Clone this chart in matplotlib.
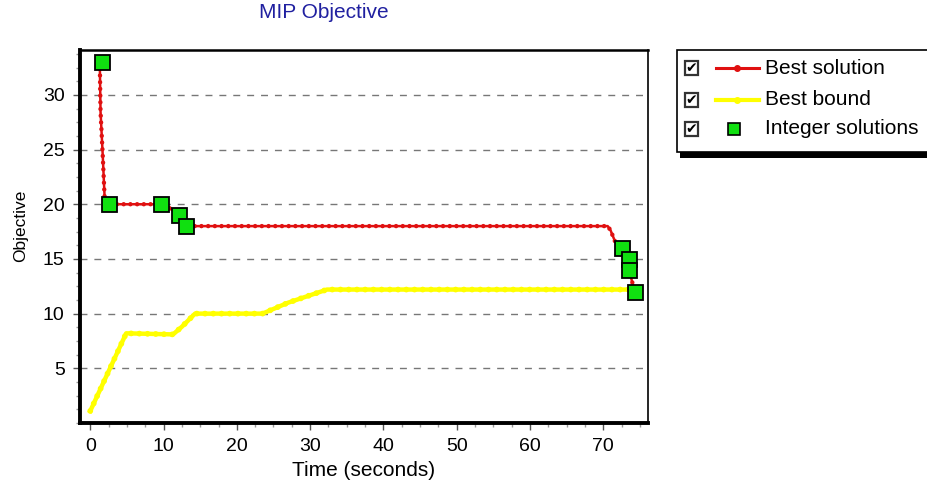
import matplotlib
matplotlib.use("Agg")
import matplotlib.pyplot as plt
from matplotlib.lines import Line2D
from matplotlib.patches import Rectangle
from matplotlib.ticker import MultipleLocator, AutoMinorLocator

W, H = 927, 487

# best solution (red staircase)
best_time = [1.3, 1.4, 1.7, 2.0, 2.6, 9.7, 10.5, 12.1, 12.6, 13.0,
             70.6, 71.0, 71.6, 72.5, 73.5, 73.5, 74.3]
best_obj = [33, 28.5, 24.5, 20, 20, 20, 19.8, 19, 18.5, 18,
            18, 17.6, 16.6, 16, 15, 14, 12]

# best bound (yellow)
bound_time = [0.0, 4.9, 11.3, 12.5, 14.3, 23.5, 27.0, 32.3, 74.3]
bound_obj = [1.1, 8.2, 8.1, 8.8, 10.0, 10.0, 11.0, 12.2, 12.2]

# integer solutions found (green squares)
int_time = [1.66, 2.57, 9.7, 12.1, 13.0, 72.5, 73.5, 73.5, 74.3]
int_obj = [33, 20, 20, 19, 18, 16, 15, 14, 12]

legend_labels = ["Best solution", "Best bound", "Integer solutions"]

RED = "#e01010"
YELLOW = "#ffff00"
GREEN = "#10e010"


def fx(px):
    return px / W


def fy(py):
    return 1 - py / H


plt.rcParams["font.family"] = ["Liberation Sans", "DejaVu Sans"]

fig = plt.figure(figsize=(W / 100, H / 100), dpi=100)
ax = fig.add_axes([fx(80), fy(423), fx(648) - fx(80), fy(50) - fy(423)])

# lines plus a dotted overlay of the same data to give the beaded look
ax.plot(bound_time, bound_obj, color=YELLOW, lw=3.2,
        solid_joinstyle="round", zorder=3)
ax.plot(bound_time, bound_obj, color=YELLOW, lw=4.2, ls=(0, (0.01, 1.4)),
        dash_capstyle="round", zorder=3)
ax.plot(best_time, best_obj, color=RED, lw=1.8, zorder=4)
ax.plot(best_time, best_obj, color=RED, lw=3.2, ls=(0, (0.01, 1.5)),
        dash_capstyle="round", zorder=4)
ax.plot(int_time, int_obj, ls="none", marker="s", ms=10.8, mfc=GREEN,
        mec="black", mew=1.3, zorder=5, clip_on=False)

ax.set_xlim(-1.4, 76.1)
ax.set_ylim(0, 34.1)
ax.xaxis.set_major_locator(MultipleLocator(10))
ax.set_yticks([5, 10, 15, 20, 25, 30])
ax.xaxis.set_minor_locator(AutoMinorLocator(4))
ax.yaxis.set_minor_locator(MultipleLocator(1.25))
ax.tick_params(which="major", direction="out", length=5, width=1,
               labelsize=14, color="#555555")
ax.tick_params(axis="y", which="major", pad=6)
ax.tick_params(axis="x", which="major", pad=6)
ax.tick_params(which="minor", direction="out", length=3, width=1,
               color="#999999")

ax.yaxis.grid(True, which="major", ls=(0, (5, 5)), color="#777777", lw=1)
ax.set_axisbelow(True)

for side, lw in [("left", 2.8), ("bottom", 2.8), ("top", 1.8), ("right", 1.2)]:
    ax.spines[side].set_linewidth(lw)
    ax.spines[side].set_color("black")

ax.set_xlabel("Time (seconds)", fontsize=15, labelpad=4)
fig.text(fx(21), fy(226), "Objective", fontsize=12.5, rotation=90,
         ha="center", va="center")
fig.text(fx(324), fy(13), "MIP Objective", fontsize=15, color="#2020a0",
         ha="center", va="center")

# legend box drawn by hand (checkbox style)
fig.patches.append(Rectangle((fx(680), fy(158)), fx(960) - fx(680),
                             fy(50) - fy(158), transform=fig.transFigure,
                             facecolor="black", edgecolor="none", zorder=1))
fig.patches.append(Rectangle((fx(677), fy(152)), fx(960) - fx(677),
                             fy(50) - fy(152), transform=fig.transFigure,
                             facecolor="white", edgecolor="black", lw=1.2,
                             zorder=2))

rows = [68, 100, 129]
for i, (label, py) in enumerate(zip(legend_labels, rows)):
    fig.patches.append(Rectangle((fx(685), fy(py + 7)), fx(13), fy(0) - fy(14),
                                 transform=fig.transFigure, facecolor="white",
                                 edgecolor="#333333", lw=1.6, zorder=3))
    fig.text(fx(691.5), fy(py), "\u2714", fontsize=10, ha="center",
             va="center", family="DejaVu Sans", zorder=4)
    if i == 0:
        fig.add_artist(Line2D([fx(716), fx(759)], [fy(py), fy(py)],
                              color=RED, lw=2.2, zorder=4))
        fig.add_artist(Line2D([fx(737)], [fy(py)], color=RED, marker="o",
                              ms=4, zorder=4))
    elif i == 1:
        fig.add_artist(Line2D([fx(716), fx(759)], [fy(py), fy(py)],
                              color=YELLOW, lw=3, zorder=4))
        fig.add_artist(Line2D([fx(737)], [fy(py)], color=YELLOW, marker="o",
                              ms=4, zorder=4))
    else:
        fig.add_artist(Line2D([fx(734)], [fy(py)], ls="none", marker="s",
                              ms=9, mfc=GREEN, mec="black", mew=1.2, zorder=4))
    fig.text(fx(765), fy(py), label, fontsize=15, ha="left", va="center",
             zorder=4)

fig.savefig("out.png", dpi=100, facecolor="white")
